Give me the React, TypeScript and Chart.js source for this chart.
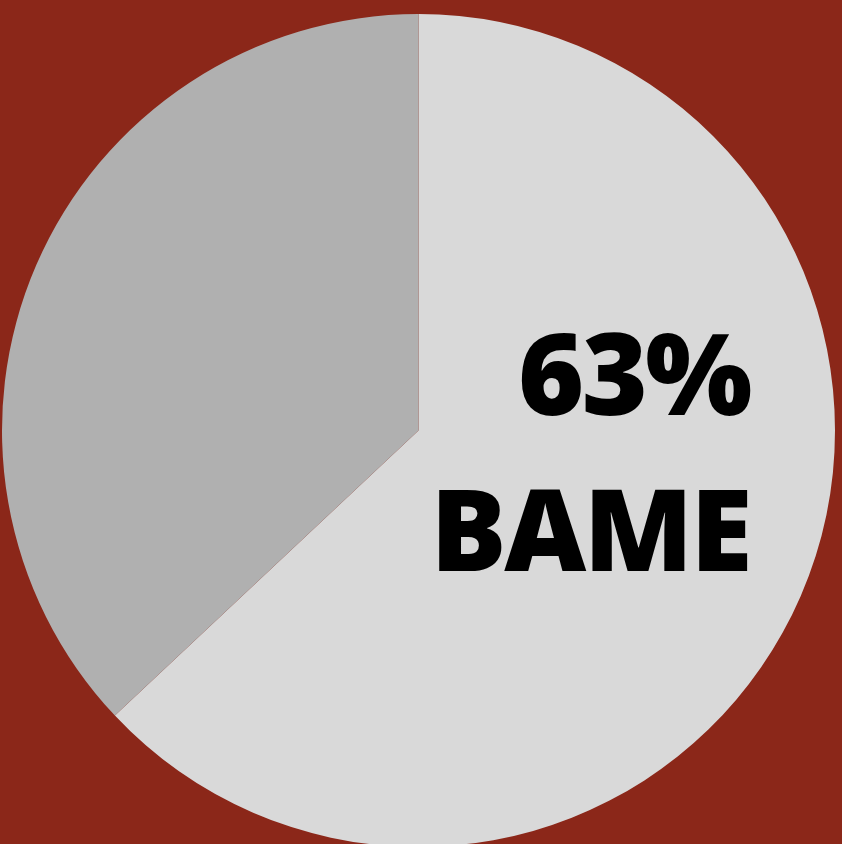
import React, { useEffect, useRef } from "react";
import { Chart, registerables } from "chart.js";

Chart.register(...registerables);

const categories: string[] = ["BAME", "Other"];
const values: number[] = [63, 37];
const sliceColors: string[] = ["#D9D9D9", "#B0B0B0"];
const labelLines: string[] = ["63%", "BAME"];

const BG = "#8B2719";

export default function App() {
  const ref = useRef<HTMLCanvasElement | null>(null);

  useEffect(() => {
    document.body.style.margin = "0";
    const canvas = ref.current;
    if (!canvas) return;
    const chart = new Chart(canvas, {
      type: "pie",
      data: {
        labels: categories,
        datasets: [
          {
            data: values,
            backgroundColor: sliceColors,
            borderWidth: 0,
          },
        ],
      },
      options: {
        responsive: false,
        animation: false,
        layout: { padding: { left: 2, right: 7, top: 14, bottom: 3 } },
        plugins: {
          legend: { display: false },
          tooltip: { enabled: false },
        },
      },
    });
    return () => chart.destroy();
  }, []);

  const textStyle: React.CSSProperties = {
    position: "absolute",
    right: 92,
    fontFamily: "'Open Sans', sans-serif",
    fontWeight: 800,
    fontSize: 113,
    letterSpacing: -2.5,
    lineHeight: 1,
    color: "#000",
    whiteSpace: "nowrap",
  };

  return (
    <div
      style={{
        position: "fixed",
        left: 0,
        top: 0,
        width: 842,
        height: 844,
        overflow: "hidden",
        background: BG,
      }}
    >
      <canvas ref={ref} width={842} height={850} style={{ display: "block" }} />
      <div style={{ ...textStyle, top: 315 }}>{labelLines[0]}</div>
      <div style={{ ...textStyle, top: 471 }}>{labelLines[1]}</div>
    </div>
  );
}
